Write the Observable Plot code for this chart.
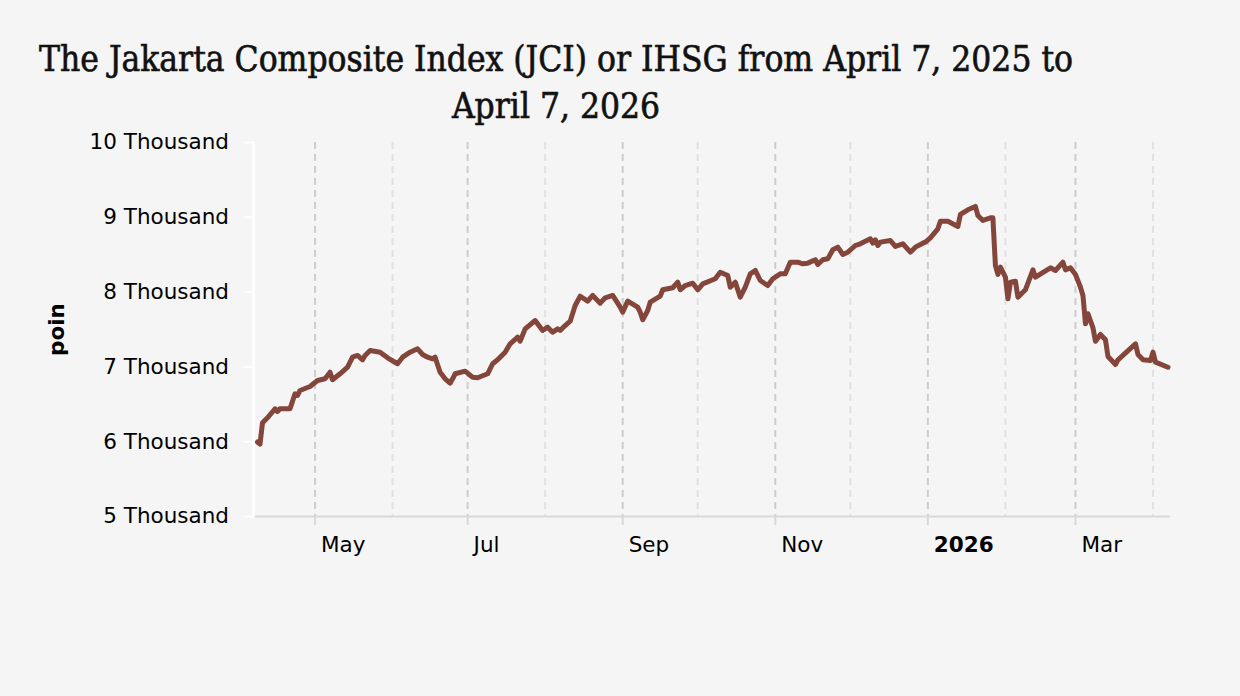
<!DOCTYPE html>
<html><head><meta charset="utf-8">
<script src="https://cdn.jsdelivr.net/npm/d3@7"></script>
<script src="https://cdn.jsdelivr.net/npm/@observablehq/plot@0.6"></script>
<style>
html,body{margin:0;padding:0;background:#f5f5f5;}
body{width:1240px;height:696px;overflow:hidden;position:relative;}
#title{position:absolute;left:0;top:36px;width:1112px;text-align:center;white-space:nowrap;
  font-family:"DejaVu Serif Condensed","DejaVu Serif",serif;font-stretch:condensed;font-size:35px;line-height:47px;color:#111;
  -webkit-text-stroke:0.6px #111;}
#chart{position:absolute;left:0;top:125px;}
</style></head>
<body>
<div id="title">The Jakarta Composite Index (JCI) or IHSG from April 7, 2025 to<br>April 7, 2026</div>
<div id="chart"></div>
<script>
const dates = [
"2025-04-08","2025-04-09","2025-04-10","2025-04-12","2025-04-15","2025-04-16","2025-04-17","2025-04-21","2025-04-23","2025-04-24",
"2025-04-25","2025-04-29","2025-05-02","2025-05-05","2025-05-07","2025-05-08","2025-05-11","2025-05-14","2025-05-16","2025-05-18",
"2025-05-20","2025-05-21","2025-05-23","2025-05-27","2025-05-30","2025-06-03","2025-06-05","2025-06-08","2025-06-11","2025-06-13",
"2025-06-15","2025-06-17","2025-06-18","2025-06-20","2025-06-22","2025-06-24","2025-06-25","2025-06-26","2025-06-30","2025-07-03",
"2025-07-05","2025-07-09","2025-07-11","2025-07-13","2025-07-16","2025-07-18","2025-07-21","2025-07-22","2025-07-24","2025-07-28",
"2025-07-31","2025-08-02","2025-08-04","2025-08-06","2025-08-07","2025-08-09","2025-08-11","2025-08-13","2025-08-15","2025-08-18",
"2025-08-20","2025-08-23","2025-08-25","2025-08-28","2025-08-31","2025-09-01","2025-09-03","2025-09-07","2025-09-08","2025-09-09",
"2025-09-11","2025-09-12","2025-09-16","2025-09-17","2025-09-21","2025-09-23","2025-09-24","2025-09-26","2025-09-29","2025-10-01",
"2025-10-03","2025-10-08","2025-10-10","2025-10-13","2025-10-14","2025-10-16","2025-10-18","2025-10-20","2025-10-22","2025-10-24",
"2025-10-26","2025-10-29","2025-10-31","2025-11-03","2025-11-05","2025-11-07","2025-11-10","2025-11-12","2025-11-14","2025-11-17",
"2025-11-18","2025-11-20","2025-11-22","2025-11-24","2025-11-26","2025-11-28","2025-11-30","2025-12-03","2025-12-05","2025-12-09",
"2025-12-10","2025-12-11","2025-12-12","2025-12-13","2025-12-17","2025-12-19","2025-12-22","2025-12-25","2025-12-27","2025-12-30",
"2025-12-31","2026-01-02","2026-01-05","2026-01-06","2026-01-09","2026-01-13","2026-01-14","2026-01-17","2026-01-20","2026-01-21",
"2026-01-23","2026-01-26","2026-01-27","2026-01-28","2026-01-29","2026-01-30","2026-02-01","2026-02-02","2026-02-03","2026-02-05",
"2026-02-06","2026-02-09","2026-02-12","2026-02-13","2026-02-19","2026-02-21","2026-02-24","2026-02-25","2026-02-27","2026-03-01",
"2026-03-03","2026-03-04","2026-03-05","2026-03-06","2026-03-08","2026-03-09","2026-03-11","2026-03-13","2026-03-14","2026-03-17",
"2026-03-18","2026-03-25","2026-03-26","2026-03-28","2026-03-31","2026-04-01","2026-04-02","2026-04-07"
];
const values = [
5996,5968,6254,6320,6440,6404,6440,6440,6640,6618,
6685,6738,6818,6841,6929,6828,6908,6996,7130,7153,
7095,7153,7219,7197,7122,7042,7130,7197,7242,7166,
7130,7108,7130,6929,6841,6782,6841,6908,6943,6862,
6855,6908,7042,7095,7197,7309,7397,7344,7509,7620,
7487,7531,7464,7509,7487,7553,7611,7821,7945,7879,
7955,7852,7924,7955,7798,7731,7879,7798,7731,7630,
7754,7865,7945,8031,8058,8133,8031,8088,8119,8031,
8110,8178,8266,8222,8066,8133,7932,8066,8244,8289,
8155,8088,8178,8244,8244,8400,8400,8378,8387,8432,
8369,8432,8445,8566,8601,8503,8534,8623,8646,8712,
8654,8699,8623,8668,8690,8610,8646,8534,8601,8654,
8668,8726,8846,8948,8948,8877,9038,9100,9145,9024,
8958,8993,8993,8356,8236,8333,8200,7911,8133,8146,
7932,8031,8298,8200,8325,8289,8400,8298,8325,8236,
8066,7955,7576,7710,7523,7344,7433,7362,7139,7032,
7095,7309,7166,7095,7086,7197,7063,6996
];
const yTicks = [5000,6000,7000,8000,9000,10000];
const yTickLabels = ["5 Thousand","6 Thousand","7 Thousand","8 Thousand","9 Thousand","10 Thousand"];
const xMajorDates = ["2025-05-01","2025-07-01","2025-09-01","2025-11-01","2026-01-01","2026-03-01"];
const xMajorLabels = ["May","Jul","Sep","Nov","2026","Mar"];
const xMinorDates = ["2025-06-01","2025-08-01","2025-10-01","2025-12-01","2026-02-01","2026-04-01"];
const xDomain = ["2025-04-07","2026-04-08"];
const yLabel = "poin";

const data = dates.map((d,i)=>({date:new Date(d), value:values[i]}));
const major = xMajorDates.map(d=>new Date(d));
const minor = xMinorDates.map(d=>new Date(d));
const labels = xMajorDates.map((d,i)=>({date:new Date(d), label:xMajorLabels[i]}));
const yearLabels = labels.filter(d=>/^\d{4}$/.test(d.label));
const monthLabels = labels.filter(d=>!/^\d{4}$/.test(d.label));

const chart = Plot.plot({
  width:1240, height:571,
  marginLeft:254.5, marginRight:70, marginTop:17, marginBottom:180,
  style:{background:"transparent", fontFamily:"DejaVu Sans, Verdana, sans-serif", fontSize:"21.5px", color:"#000", overflow:"visible"},
  x:{type:"utc", domain:xDomain.map(d=>new Date(d))},
  y:{domain:[5000,10000]},
  marks:[
    Plot.gridX({ticks:minor, stroke:"#e1e1e1", strokeOpacity:1, strokeWidth:2, strokeDasharray:"7,5"}),
    Plot.gridX({ticks:major, stroke:"#cdcdcd", strokeOpacity:1, strokeWidth:2, strokeDasharray:"7,5"}),
    Plot.ruleY([5000], {stroke:"#d9d9d9", strokeWidth:2}),
    Plot.axisX({ticks:major, tickSize:9, stroke:"#d9d9d9", strokeWidth:2, tickFormat:()=>"", label:null}),
    Plot.text(monthLabels, {x:"date", text:"label", frameAnchor:"bottom", lineAnchor:"top", textAnchor:"start", dx:6, dy:20, fontSize:21.5, fill:"#000"}),
    Plot.text(yearLabels, {x:"date", text:"label", frameAnchor:"bottom", lineAnchor:"top", textAnchor:"start", dx:6, dy:20, fontSize:21.5, fontWeight:"bold", fill:"#000"}),
    Plot.ruleX([xDomain[0]].map(d=>new Date(d)), {y1:5000, y2:10000, stroke:"#ffffff", strokeWidth:3, dx:-1.5}),
    Plot.axisY({ticks:yTicks, tickFormat:d=>yTickLabels[yTicks.indexOf(d)], tickSize:11, tickPadding:15, stroke:"#ffffff", strokeWidth:2, fill:"#000", fontSize:21.5, label:null}),
    Plot.text([yLabel], {text:d=>d, frameAnchor:"left", rotate:-90, dx:-197.5, fontSize:21.5, fontWeight:"bold", fill:"#000", textAnchor:"middle", lineAnchor:"middle"}),
    Plot.line(data, {x:"date", y:"value", stroke:"#84463b", strokeWidth:5, strokeLinejoin:"round", strokeLinecap:"round"})
  ]
});
document.getElementById("chart").appendChild(chart);
</script>
</body></html>
